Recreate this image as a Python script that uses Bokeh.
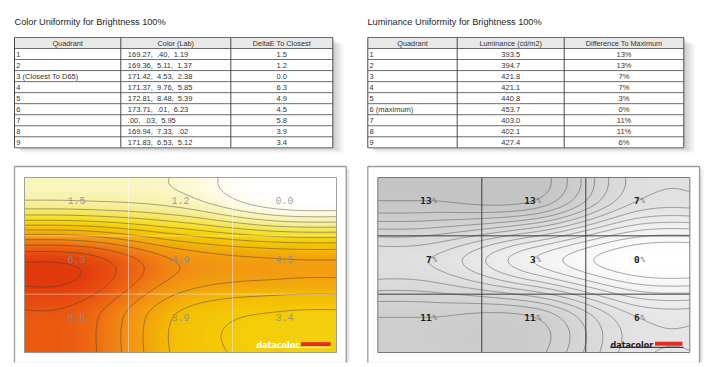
import numpy as np
from bokeh.plotting import figure
from bokeh.models import Range1d, LinearColorMapper
from bokeh.core.properties import value
from bokeh.embed import file_html
from bokeh.resources import INLINE

# ------------------------------------------------------------------ data
color_title = "Color Uniformity for Brightness 100%"
lum_title = "Luminance Uniformity for Brightness 100%"
color_headers = ["Quadrant", "Color (Lab)", "DeltaE To Closest"]
lum_headers = ["Quadrant", "Luminance (cd/m2)", "Difference To Maximum"]
color_quadrants = ["1", "2", "3 (Closest To D65)", "4", "5", "6", "7", "8", "9"]
lab_L = ["169.27", "169.36", "171.42", "171.37", "172.81", "173.71", ".00", "169.94", "171.83"]
lab_a = [".40", "5.11", "4.53", "9.76", "8.48", ".01", ".03", "7.33", "6.53"]
lab_b = ["1.19", "1.37", "2.38", "5.85", "5.39", "6.23", "5.95", ".02", "5.12"]
delta_e = [1.5, 1.2, 0.0, 6.3, 4.9, 4.5, 5.8, 3.9, 3.4]
lum_quadrants = ["1", "2", "3", "4", "5", "6 (maximum)", "7", "8", "9"]
luminance = [393.5, 394.7, 421.8, 421.1, 440.8, 453.7, 403.0, 402.1, 427.4]
diff_to_max = [13, 13, 7, 7, 3, 0, 11, 11, 6]
logo_text = "datacolor"

# ------------------------------------------------------------------ layout helpers
IMG_H = 367
def Y(v):
    return IMG_H - np.asarray(v, dtype=float)

SANS = value("Liberation Sans")
MONO = value("Liberation Mono")

p = figure(width=712, height=364, x_range=Range1d(0, 712), y_range=Range1d(3, 367),
           output_backend="svg", toolbar_location=None, min_border=0,
           x_axis_location=None, y_axis_location=None)
p.grid.visible = False
p.outline_line_color = None
p.background_fill_color = "white"
p.border_fill_color = "white"

ROW_TOP, ROW_H = 37.0, 11.03


def draw_table(edges, headers, cols, aligns, pads, title, title_x):
    x0, x1 = edges[0], edges[-1]
    nrows = len(cols[0]) + 1
    bottom = ROW_TOP + nrows * ROW_H
    # soft shadow
    for k in range(1, 8):
        p.quad(left=x0 + k, right=x1 + 1.6 * k, top=Y(ROW_TOP + k), bottom=Y(bottom + 0.7 * k),
               fill_color="black", fill_alpha=0.028, line_color=None)
    p.quad(left=x0, right=x1, top=Y(ROW_TOP), bottom=Y(bottom), fill_color="white", line_color=None)
    p.quad(left=x0, right=x1, top=Y(ROW_TOP), bottom=Y(ROW_TOP + ROW_H),
           fill_color="#e8e8e8", line_color=None)
    ys = ROW_TOP + ROW_H * np.arange(nrows + 1)
    p.segment(x0=[x0] * len(ys), x1=[x1] * len(ys), y0=Y(ys), y1=Y(ys),
              line_color="#5a5a5a", line_width=0.9)
    p.segment(x0=edges, x1=edges, y0=[Y(ROW_TOP)] * len(edges), y1=[Y(bottom)] * len(edges),
              line_color="#4a4a4a", line_width=1.0)
    # header
    mids = [(edges[j] + edges[j + 1]) / 2 for j in range(3)]
    p.text(x=mids, y=[Y(ROW_TOP + ROW_H / 2)] * 3, text=headers, text_align="center",
           text_baseline="middle", text_font=SANS, text_font_size="7.3px", text_color="#333333")
    rc = Y(ROW_TOP + ROW_H * (np.arange(1, nrows) + 0.5))
    for j in range(3):
        if aligns[j] == "left":
            xs = [edges[j] + pads[j]] * (nrows - 1)
        else:
            xs = [mids[j]] * (nrows - 1)
        p.text(x=xs, y=rc, text=cols[j], text_align=aligns[j], text_baseline="middle",
               text_font=SANS, text_font_size="7.5px", text_color="#333333")
    p.text(x=[title_x], y=[Y(21.5)], text=[title], text_align="left", text_baseline="alphabetic",
           text_font=SANS, text_font_size="9.2px", text_color="#1e1e1e")


lab_text = [f"{L}, \u00a0{a}, \u00a0{b}" for L, a, b in zip(lab_L, lab_a, lab_b)]
draw_table([14, 120.3, 230.3, 332.3], color_headers,
           [color_quadrants, lab_text, [f"{v:.1f}" for v in delta_e]],
           ["left", "left", "center"], [1.8, 7.0, 0], color_title, 14)
draw_table([367.3, 456.7, 563.7, 683.3], lum_headers,
           [lum_quadrants, [f"{v:.1f}" for v in luminance], [f"{v}%" for v in diff_to_max]],
           ["left", "center", "center"], [1.8, 0, 0], lum_title, 367)


# ------------------------------------------------------------------ heat maps
def cubic_weights(u, n, a=-0.5):
    W = np.zeros((u.size, n))
    base = np.floor(u).astype(int)
    rows = np.arange(u.size)
    for k in range(-1, 3):
        idx = base + k
        d = np.abs(u - idx)
        w = np.where(d <= 1, (a + 2) * d**3 - (a + 3) * d**2 + 1,
                     np.where(d < 2, a * d**3 - 5 * a * d**2 + 8 * a * d - 4 * a, 0.0))
        np.add.at(W, (rows, np.clip(idx, 0, n - 1)), w)
    return W


def ramp(stops, n=256):
    v = np.array([s[0] for s in stops], dtype=float)
    c = np.array([[int(h[1:3], 16), int(h[3:5], 16), int(h[5:7], 16)] for _, h in stops], dtype=float)
    t = np.linspace(v[0], v[-1], n)
    rgb = np.stack([np.interp(t, v, c[:, k]) for k in range(3)], axis=1)
    return ["#%02x%02x%02x" % tuple(int(round(x)) for x in row) for row in rgb], v[0], v[-1]


def draw_frame(fx0, fx1, fy0, fy1):
    for k in range(1, 4):
        p.quad(left=fx0 + k, right=fx1 + 1.3 * k, top=Y(fy0 + k), bottom=Y(fy1),
               fill_color="black", fill_alpha=0.05, line_color=None)
    p.quad(left=fx0, right=fx1, top=Y(fy0), bottom=Y(fy1), fill_color="white", line_color=None)
    p.multi_line(xs=[[fx0, fx0, fx1, fx1]], ys=[list(Y([fy1, fy0, fy0, fy1]))],
                 line_color="#9c9c9c", line_width=1.3)


def draw_map(vals, px0, px1, py0, py1, palette_stops, levels, line_color, line_alpha):
    G = np.array(vals, dtype=float).reshape(3, 3)
    w, h = px1 - px0, py1 - py0
    node_x = px0 + (np.arange(3) + 0.5) * w / 3
    node_y = py0 + (np.arange(3) + 0.5) * h / 3 - 6
    nx, ny = int(round(w)), int(round(h))
    xc = px0 + (np.arange(nx) + 0.5) * w / nx
    yc = py0 + (np.arange(ny) + 0.5) * h / ny
    Wx = cubic_weights((xc - node_x[0]) / (w / 3), 3)
    Wy = cubic_weights((yc - node_y[0]) / (h / 3), 3)
    Z = Wy @ G @ Wx.T              # rows top -> bottom
    Zimg = Z[::-1]                 # rows bottom -> top
    pal, lo, hi = ramp(palette_stops)
    mapper = LinearColorMapper(palette=pal, low=lo, high=hi)
    p.image(image=[Zimg], x=px0, y=float(Y(py1)), dw=w, dh=h, color_mapper=mapper)
    p.contour(x=xc, y=Y(yc[::-1]), z=Zimg, levels=list(levels),
              line_color=line_color, line_alpha=line_alpha, line_width=0.8)
    return node_x, node_y


# Colour (DeltaE) map
draw_frame(14, 345.7, 166, 362)
cx0, cx1, cy0, cy1 = 24, 336, 177, 352
color_stops = [(0.0, "#ffffff"), (0.6, "#fffbe8"), (1.3, "#f8f3b2"), (1.7, "#f6ee98"),
               (2.3, "#f5e65a"), (2.9, "#f5dc20"), (3.4, "#f4cc08"), (3.9, "#f4be04"),
               (4.5, "#f3a20e"), (4.9, "#f29014"), (5.5, "#ee6e12"), (6.0, "#ea5410"),
               (6.5, "#e23c0c"), (7.2, "#d82a0a")]
nxs, nys = draw_map(delta_e, cx0, cx1, cy0, cy1, color_stops, np.arange(0.5, 7.01, 0.5),
                    "#3a3a3a", 0.55)
gx = [cx0 + (cx1 - cx0) / 3, cx0 + 2 * (cx1 - cx0) / 3]
gy = [cy0 + (cy1 - cy0) / 3, cy0 + 2 * (cy1 - cy0) / 3]
p.segment(x0=gx, x1=gx, y0=[Y(cy0)] * 2, y1=[Y(cy1)] * 2, line_color="white", line_alpha=0.45, line_width=1)
p.segment(x0=[cx0] * 2, x1=[cx1] * 2, y0=Y(gy), y1=Y(gy), line_color="white", line_alpha=0.45, line_width=1)
p.quad(left=cx0, right=cx1, top=Y(cy0), bottom=Y(cy1), fill_color=None, line_color="#8a8a8a", line_width=0.8)
lx = np.tile(nxs, 3)
ly = Y(np.repeat(nys, 3))
p.text(x=lx, y=ly, text=[f"{v:.1f}" for v in delta_e], text_align="center", text_baseline="middle",
       text_font=MONO, text_font_size="10px", text_color="#8a8a8a", text_alpha=0.85)
# logo
p.text(x=[256], y=[Y(345.3)], text=[logo_text], text_align="left", text_baseline="alphabetic",
       text_font=value("DejaVu Sans"), text_font_style="bold", text_font_size="8px", text_color="white")
p.quad(left=[300.5], right=[330], top=Y(341.7), bottom=Y(345.7), fill_color="#e42a24", line_color=None)
p.segment(x0=[255.5], x1=[330], y0=Y(346.8), y1=Y(346.8), line_color="white", line_width=1)

# Luminance map
draw_frame(367.3, 699, 166, 362)
lx0, lx1, ly0, ly1 = 377.3, 689.3, 177, 352
lum_stops = [(0.0, "#ffffff"), (13.5, "#c4c4c4")]
nxl, nyl = draw_map(diff_to_max, lx0, lx1, ly0, ly1, lum_stops, np.arange(1, 14, 1),
                    "#5a5a5a", 0.7)
gx = [lx0 + (lx1 - lx0) / 3, lx0 + 2 * (lx1 - lx0) / 3]
gy = [ly0 + (ly1 - ly0) / 3, ly0 + 2 * (ly1 - ly0) / 3]
p.segment(x0=gx, x1=gx, y0=[Y(ly0)] * 2, y1=[Y(ly1)] * 2, line_color="#3c3c3c", line_width=1)
p.segment(x0=[lx0] * 2, x1=[lx1] * 2, y0=Y(gy), y1=Y(gy), line_color="#3c3c3c", line_width=1)
p.quad(left=lx0, right=lx1, top=Y(ly0), bottom=Y(ly1), fill_color=None, line_color="#6a6a6a", line_width=0.9)
lxx = np.tile(nxl, 3)
lyy = Y(np.repeat(nyl, 3))
p.text(x=lxx + 2, y=lyy, text=[str(v) for v in diff_to_max], text_align="right", text_baseline="middle",
       text_font=value("DejaVu Sans Mono"), text_font_style="bold", text_font_size="9.5px", text_color="#222222")
p.text(x=lxx + 2.6, y=lyy, text=["%"] * 9, text_align="left", text_baseline="middle",
       text_font=value("DejaVu Sans Mono"), text_font_size="7.5px", text_color="#777777")
p.text(x=[610], y=[Y(345.3)], text=[logo_text], text_align="left", text_baseline="alphabetic",
       text_font=value("DejaVu Sans"), text_font_style="bold", text_font_size="8px", text_color="#1e1e1e")
p.quad(left=[654.5], right=[682], top=Y(341.2), bottom=Y(345.2), fill_color="#e42a24", line_color=None)
p.segment(x0=[609.5], x1=[683], y0=Y(346.8), y1=Y(346.8), line_color="#1e1e1e", line_width=1)

open("out.html", "w").write(file_html(p, INLINE))
